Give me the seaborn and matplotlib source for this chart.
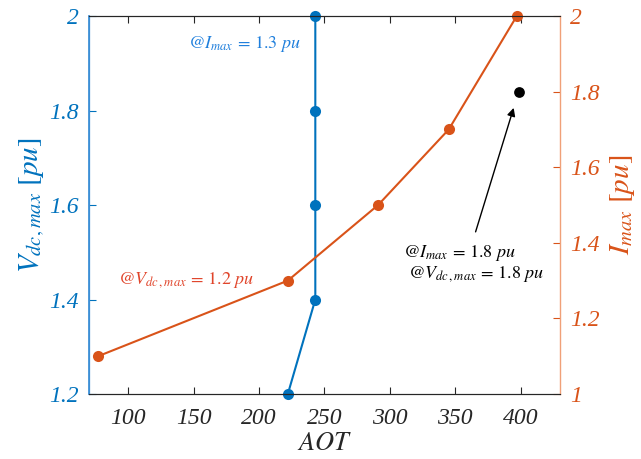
import matplotlib
matplotlib.use("Agg")
import matplotlib.pyplot as plt
import seaborn as sns
import pandas as pd

# AOT sweep at fixed current limit (left axis: V_dc,max)
aot_v = [222, 243, 243, 243, 243]
vdc_max = [1.2, 1.4, 1.6, 1.8, 2.0]

# AOT sweep at fixed DC voltage limit (right axis: I_max)
aot_i = [77, 222, 291, 345, 397]
i_max = [1.1, 1.3, 1.5, 1.7, 2.0]

# Single operating point at I_max = V_dc,max = 1.8 pu
aot_pt = [399]
i_pt = [1.8]

x_ticks = [100, 150, 200, 250, 300, 350, 400]
v_ticks = [1.2, 1.4, 1.6, 1.8, 2.0]
v_tick_labels = ["1.2", "1.4", "1.6", "1.8", "2"]
i_ticks = [1.0, 1.2, 1.4, 1.6, 1.8, 2.0]
i_tick_labels = ["1", "1.2", "1.4", "1.6", "1.8", "2"]

BLUE = "#0072BD"
ORANGE = "#D95319"
BLUE_TXT = "#1F7FDC"
RED_TXT = "#E0442A"

sns.set_theme(style="white")
plt.rcParams["font.family"] = ["Liberation Serif", "DejaVu Serif"]
plt.rcParams["mathtext.fontset"] = "stix"

fig = plt.figure(figsize=(6.41, 4.59), dpi=100)
ax = fig.add_axes([0.1388, 0.1416, 0.7348, 0.8235])
ax2 = ax.twinx()

df_v = pd.DataFrame({"AOT": aot_v, "V": vdc_max})
df_i = pd.DataFrame({"AOT": aot_i, "I": i_max})
df_p = pd.DataFrame({"AOT": aot_pt, "I": i_pt})

sns.lineplot(data=df_v, x="AOT", y="V", ax=ax, sort=False, estimator=None,
             color=BLUE, marker="o", markersize=8, markeredgewidth=0,
             linewidth=1.5, clip_on=False)
sns.lineplot(data=df_i, x="AOT", y="I", ax=ax2, sort=False, estimator=None,
             color=ORANGE, marker="o", markersize=8, markeredgewidth=0,
             linewidth=1.5, clip_on=False)
sns.scatterplot(data=df_p, x="AOT", y="I", ax=ax2, color="black", s=60,
                linewidth=0, zorder=5)

ax.set_xlim(70, 430)
ax.set_ylim(1.2, 2.0)
ax2.set_ylim(1.0, 2.0)

ax.tick_params(axis="x", direction="in", length=5, width=0.8, color="#262626",
               labelcolor="#262626", top=True, bottom=True, pad=10)
ax.tick_params(axis="y", direction="in", length=5, width=0.8, color=BLUE,
               labelcolor=BLUE, pad=7)
ax2.tick_params(axis="y", direction="in", length=5, width=0.8, color=ORANGE,
                labelcolor=ORANGE, pad=7)

tick_font = dict(fontsize=17, fontstyle="italic")
ax.set_xticks(x_ticks, [str(t) for t in x_ticks], **tick_font)
ax.set_yticks(v_ticks, v_tick_labels, **tick_font)
ax2.set_yticks(i_ticks, i_tick_labels, **tick_font)

for a in (ax, ax2):
    a.spines["top"].set_color("#262626")
    a.spines["bottom"].set_color("#262626")
    a.spines["top"].set_linewidth(0.8)
    a.spines["bottom"].set_linewidth(0.8)
ax2.spines["left"].set_color("#3C8FD6")
ax2.spines["right"].set_color("#F0A078")
ax.spines["left"].set_color("#3C8FD6")
ax.spines["right"].set_visible(False)
ax2.spines["left"].set_linewidth(0.9)
ax2.spines["right"].set_linewidth(1.0)

ax.set_xlabel(r"$AOT$", fontsize=19, color="#262626", labelpad=3)
ax.set_ylabel(r"$V_{dc,max}\ [pu]$", fontsize=21, color=BLUE, labelpad=2)
ax2.set_ylabel(r"$I_{max}\ [pu]$", fontsize=21, color=ORANGE, rotation=90,
               labelpad=6)

note = dict(transform=ax.transAxes, fontsize=13, ha="center", va="center")
ax.text(0.330, 0.926, r"$@I_{max}\,=\,1.3\ pu$", color=BLUE_TXT, **note)
ax.text(0.207, 0.302, r"$@V_{dc\,,max}\,=\,1.2\ pu$", color=RED_TXT, **note)
ax.text(0.787, 0.373, r"$@I_{max}\,=\,1.8\ pu$", color="black", **note)
ax.text(0.821, 0.318, r"$@V_{dc\,,max}\,=\,1.8\ pu$", color="black", **note)

ax2.annotate("", xy=(394.6, 1.757), xytext=(365.5, 1.429),
             arrowprops=dict(arrowstyle="-|>", color="black", lw=1.0,
                             mutation_scale=12, shrinkA=0, shrinkB=0))

fig.savefig("out.png", dpi=100)
